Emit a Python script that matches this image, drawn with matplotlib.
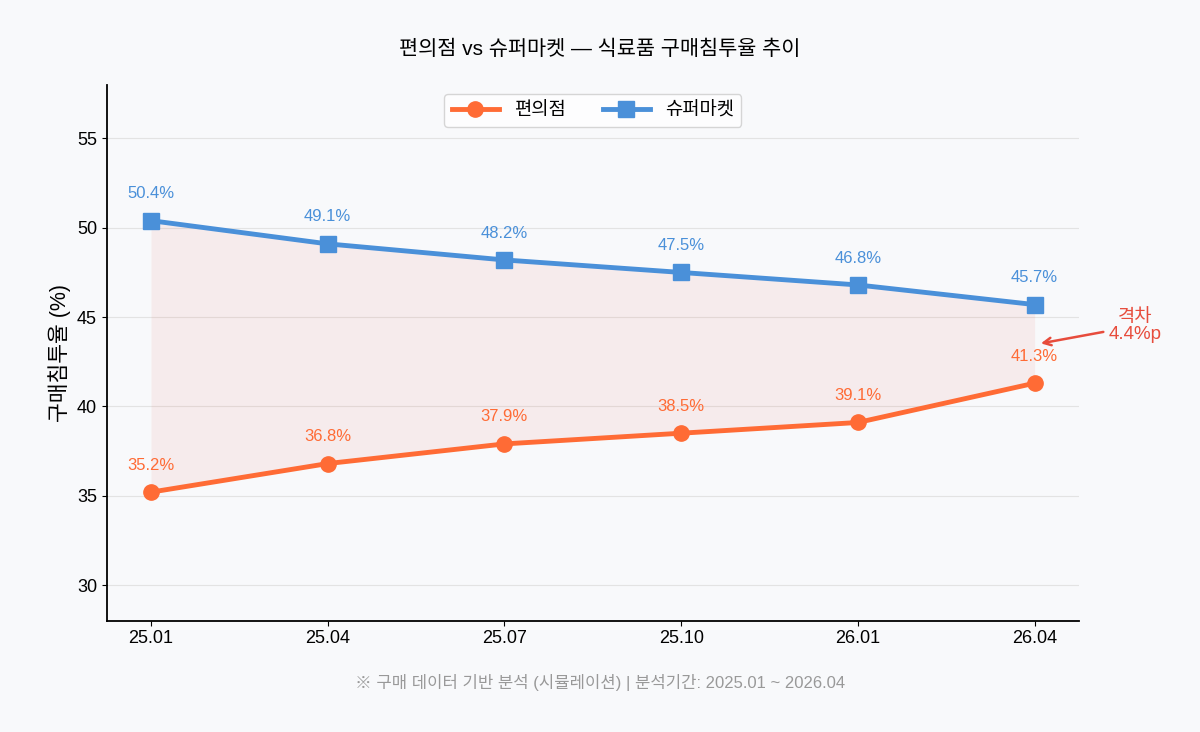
import matplotlib
matplotlib.use('Agg')
import matplotlib.pyplot as plt

plt.rcParams['font.family'] = ['Liberation Sans', 'Noto Sans CJK KR', 'DejaVu Sans']

# 데이터
periods = ['25.01', '25.04', '25.07', '25.10', '26.01', '26.04']
conv = [35.2, 36.8, 37.9, 38.5, 39.1, 41.3]
superm = [50.4, 49.1, 48.2, 47.5, 46.8, 45.7]

c_conv = '#FF6B35'
c_super = '#4A90D9'
bg = '#F8F9FB'

fig, ax = plt.subplots(figsize=(12, 7.32), dpi=100)
fig.patch.set_facecolor(bg)
ax.set_facecolor(bg)
fig.subplots_adjust(left=0.089, right=0.899, top=0.884, bottom=0.152)

x = list(range(len(periods)))
ax.fill_between(x, conv, superm, color='#E74C3C', alpha=0.08, linewidth=0)
ax.plot(x, conv, '-o', color=c_conv, lw=3.5, ms=11, label='편의점')
ax.plot(x, superm, '-s', color=c_super, lw=3.5, ms=11, label='슈퍼마켓')

for i in x:
    ax.annotate(f'{conv[i]}%', (i, conv[i]), xytext=(0, 14), textcoords='offset points',
                ha='center', va='bottom', color=c_conv, fontsize=12)
    ax.annotate(f'{superm[i]}%', (i, superm[i]), xytext=(0, 14), textcoords='offset points',
                ha='center', va='bottom', color=c_super, fontsize=12)

# 격차 표시
gap = superm[-1] - conv[-1]
ax.annotate(f'격차\n{gap:.1f}%p', xy=(5.02, (superm[-1] + conv[-1]) / 2), xytext=(5.57, 44.5),
            ha='center', va='center', color='#E74C3C', fontsize=13.5, linespacing=0.95,
            arrowprops=dict(arrowstyle='->', color='#E74C3C', lw=1.8), annotation_clip=False)

ax.set_xlim(-0.25, 5.25)
ax.set_ylim(28, 58)
ax.set_xticks(x)
ax.set_xticklabels(periods, fontsize=13)
ax.set_yticks([30, 35, 40, 45, 50, 55])
ax.tick_params(axis='y', labelsize=13)
ax.set_ylabel('구매침투율 (%)', fontsize=15.5)
ax.grid(axis='y', color='#E3E3E3', lw=0.8)
ax.set_axisbelow(True)
for s in ['top', 'right']:
    ax.spines[s].set_visible(False)
for s in ['left', 'bottom']:
    ax.spines[s].set_linewidth(1.3)

ax.legend(loc='upper center', ncol=2, fontsize=13.5, frameon=True, facecolor='white',
          edgecolor='#CCCCCC', borderpad=0.4, columnspacing=2.0, handlelength=2.5)

fig.text(0.5, 0.932, '편의점 vs 슈퍼마켓 — 식료품 구매침투율 추이', ha='center', va='center', fontsize=15)
fig.text(0.5, 0.067, '※ 구매 데이터 기반 분석 (시뮬레이션) | 분석기간: 2025.01 ~ 2026.04',
         ha='center', va='center', fontsize=12, color='#999999')

fig.savefig('out.png', dpi=100, facecolor=bg)
